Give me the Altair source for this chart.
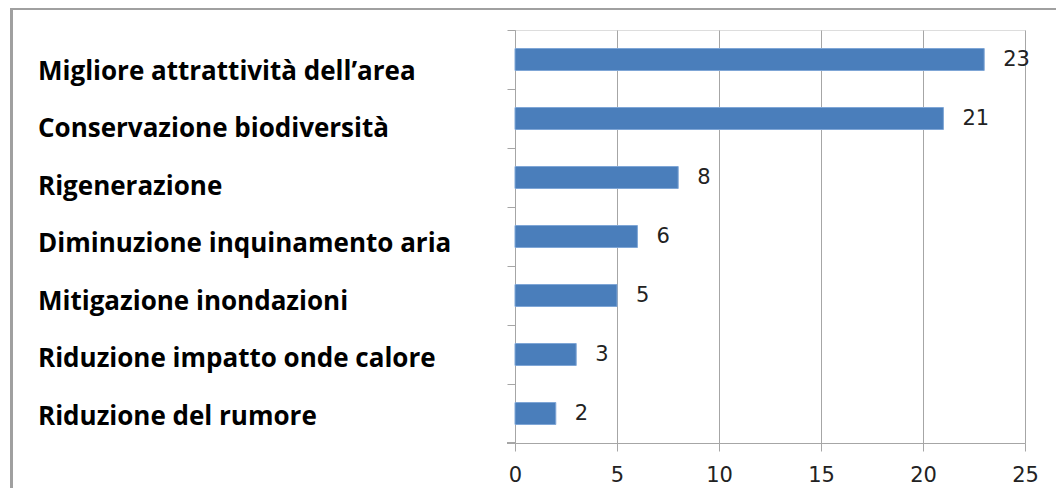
import altair as alt
import pandas as pd

categories = [
    "Migliore attrattività dell\u2019area",
    "Conservazione biodiversità",
    "Rigenerazione",
    "Diminuzione inquinamento aria",
    "Mitigazione inondazioni",
    "Riduzione impatto onde calore",
    "Riduzione del rumore",
]
values = [23, 21, 8, 6, 5, 3, 2]
x_ticks = [0, 5, 10, 15, 20, 25]

df = pd.DataFrame({"cat": categories, "val": values})

W, H = 510, 413
GRAY = "#A6A6A6"

yenc = alt.Y("cat:N", sort=categories,
             scale=alt.Scale(paddingInner=0, paddingOuter=0),
             axis=alt.Axis(title=None, labels=False, bandPosition=0, tickSize=8,
                           tickColor=GRAY, domainColor=GRAY, grid=False))
xenc = alt.X("val:Q", scale=alt.Scale(domain=[0, 25], nice=False),
             axis=alt.Axis(title=None, values=x_ticks, tickSize=8, tickColor=GRAY,
                           domainColor=GRAY, gridColor=GRAY, grid=True,
                           labelFont="DejaVu Sans", labelFontSize=21, labelColor="#222222",
                           labelPadding=13, labelFlush=False))

bars = alt.Chart(df).mark_bar(size=22, color="#4A7EBB", stroke="#7FA6D6", strokeWidth=1).encode(
    x=xenc, y=yenc
)

vals = alt.Chart(df).mark_text(align="left", baseline="middle", dx=19, dy=0,
                               font="DejaVu Sans", fontSize=21, color="#222222").encode(
    x="val:Q", y=alt.Y("cat:N", sort=categories), text="val:Q"
)

base = alt.layer(bars, vals)

names = alt.Chart(df).mark_text(align="left", baseline="alphabetic", font="Open Sans",
                                fontWeight="bold", fontSize=26, color="#000000").encode(
    x=alt.value(-477),
    y=alt.Y("cat:N", sort=categories,
            scale=alt.Scale(type="point", range=[49.5, 394.5], padding=0),
            axis=None),
    text="cat:N",
)

bottom_tick = alt.Chart(df).mark_rule(color=GRAY).encode(
    x=alt.value(-8), x2=alt.value(0), y=alt.value(H)
)

frame = alt.Chart(df).mark_rect(filled=False, stroke="#A0A0A0", strokeWidth=2).encode(
    x=alt.value(-503.5), x2=alt.value(600), y=alt.value(-21), y2=alt.value(480)
)

chart = alt.layer(frame, base, names, bottom_tick).resolve_scale(y="independent").properties(
    width=W, height=H,
    autosize=alt.AutoSizeParams(type="none"),
    padding={"left": 507, "top": 22, "right": 31, "bottom": 45},
).configure_view(stroke=None).configure(background="white")

chart.save("out.html", embed_options={"renderer": "svg", "actions": False})
